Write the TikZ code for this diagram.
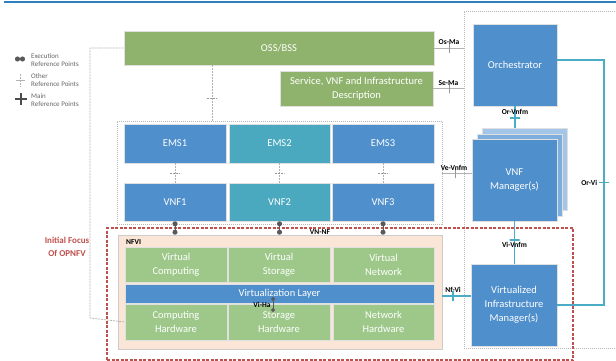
\documentclass[tikz,border=0pt]{standalone}
\usepackage{fontspec}
\setmainfont{Carlito}
\usetikzlibrary{arrows.meta}
\definecolor{boxblue}{HTML}{4F8FCB}
\definecolor{boxteal}{HTML}{4AA8BF}
\definecolor{boxolive}{HTML}{8FB36D}
\definecolor{boxgreen}{HTML}{9DC88A}
\definecolor{boxpeach}{HTML}{FBE5D6}
\definecolor{stackmid}{HTML}{7DAEDD}
\definecolor{stackback}{HTML}{A3C6E8}
\definecolor{lineteal}{HTML}{4BACC6}
\definecolor{focusred}{HTML}{C0504D}
\definecolor{topblue}{HTML}{2E7FC0}

\begin{document}
\begin{tikzpicture}[x=1pt,y=-1pt]
\tikzstyle{blk}=[rectangle,draw=black!12,line width=.6pt,text=white,font=\fontsize{10.5}{14}\selectfont,align=center,inner sep=0pt]
\tikzstyle{bluebox}=[blk,fill=boxblue]
\tikzstyle{tealbox}=[blk,fill=boxteal]
\tikzstyle{olivebox}=[blk,fill=boxolive]
\tikzstyle{greenbox}=[blk,fill=boxgreen]
\tikzstyle{frame}=[rectangle,draw=black!28,dash pattern=on 1pt off 1pt,line width=.6pt,inner sep=0pt]
\tikzstyle{focusframe}=[rectangle,draw=focusred,dash pattern=on 3pt off 1.5pt,line width=1.6pt,inner sep=0pt]
\tikzstyle{ptlbl}=[font=\fontsize{7.5}{9}\selectfont\bfseries,inner sep=1pt]
\tikzstyle{legend}=[font=\fontsize{7}{8.5}\selectfont,text=black!60,align=left,inner sep=0pt,anchor=west]
\tikzstyle{mgmt}=[draw=lineteal,line width=1.6pt]
\tikzstyle{other}=[draw=black!30,line width=.7pt]
\tikzstyle{otherdash}=[draw=black!30,line width=.7pt,dash pattern=on 2pt off 1pt]
\tikzstyle{vtick}=[rectangle,draw=black!40,line width=.8pt,minimum width=0pt,minimum height=10pt,inner sep=0pt]
\tikzstyle{htick}=[rectangle,draw=black!40,line width=.8pt,minimum width=10pt,minimum height=0pt,inner sep=0pt]
\tikzstyle{exec}=[draw=black!65,line width=1pt,{Circle[length=5pt]}-{Circle[length=5pt]}]
\fill[white] (0,0) rectangle (616,361);
\useasboundingbox (0,0) rectangle (616,361);
\clip (0,0) rectangle (616,361);
\draw[topblue,line width=1.5pt] (4,2) -- (616,2);
\node[frame,minimum width=160pt,minimum height=337pt] (mano) at (544,179.5) {};
\node[frame,minimum width=325pt,minimum height=103pt] (nf) at (279.5,172.5) {};
\node[focusframe,minimum width=466pt,minimum height=132pt] (focus) at (340,294) {};
\node[rectangle,draw=black!20,fill=boxpeach,line width=.6pt,minimum width=324pt,minimum height=114pt,inner sep=0pt] (nfvi) at (280,292) {};
\node[olivebox,minimum width=310pt,minimum height=34pt] (oss) at (279,48) {OSS/BSS};
\node[olivebox,minimum width=153pt,minimum height=35pt] (sdesc) at (356.5,88.5) {Service, VNF and Infrastructure\\Description};
\node[bluebox,minimum width=84pt,minimum height=82pt] (orch) at (515,65) {Orchestrator};
\node[bluebox,minimum width=102pt,minimum height=39pt] (ems1) at (175,143.5) {EMS1};
\node[tealbox,minimum width=101pt,minimum height=39pt] (ems2) at (279.5,143.5) {EMS2};
\node[bluebox,minimum width=102pt,minimum height=39pt] (ems3) at (383,143.5) {EMS3};
\node[bluebox,minimum width=102pt,minimum height=38pt] (vnf1) at (175,202) {VNF1};
\node[tealbox,minimum width=101pt,minimum height=38pt] (vnf2) at (279.5,202) {VNF2};
\node[bluebox,minimum width=102pt,minimum height=38pt] (vnf3) at (383,202) {VNF3};
\node[blk,fill=stackback,minimum width=85pt,minimum height=82pt] (vnfmc) at (524.5,169) {};
\node[blk,fill=stackmid,minimum width=85pt,minimum height=82pt] (vnfmb) at (519.5,175) {};
\node[bluebox,minimum width=85pt,minimum height=82pt] (vnfm) at (514.5,180) {VNF\\Manager(s)};
\node[bluebox,minimum width=86pt,minimum height=82pt] (vim) at (514,305) {Virtualized\\Infrastructure\\Manager(s)};
\node[greenbox,minimum width=102pt,minimum height=35pt] (vcomp) at (176,264.5) {Virtual\\Computing};
\node[greenbox,minimum width=102pt,minimum height=35pt] (vstor) at (279,264.5) {Virtual\\Storage};
\node[greenbox,minimum width=101pt,minimum height=35pt] (vnet) at (383.5,264.5) {Virtual\\Network};
\node[bluebox,minimum width=309pt,minimum height=19pt] (vlayer) at (279.5,293.5) {Virtualization Layer};
\node[greenbox,minimum width=102pt,minimum height=36pt] (chw) at (176,322) {Computing\\Hardware};
\node[greenbox,minimum width=102pt,minimum height=36pt] (shw) at (279,322) {Storage\\Hardware};
\node[greenbox,minimum width=101pt,minimum height=36pt] (nhw) at (383.5,322) {Network\\Hardware};
\node[ptlbl,anchor=west] (nfvilbl) at (125,242) {NFVI};
\node[font=\fontsize{9}{13}\selectfont\bfseries,text=focusred,align=center] (focuslbl) at (67,246.5) {Initial Focus\\Of OPNFV};
\draw[otherdash] (oss.west) -- (90,48) -- (90,318) -- (chw.west);
\draw[otherdash] (212,0 |- oss.south) -- node[htick,pos=.59]{} (212,0 |- nf.north);
\draw[other] (oss.east) -- node[vtick,pos=.53]{} node[ptlbl,above=2pt,pos=.5]{Os-Ma} (oss.east -| mano.west);
\draw[other] (sdesc.east) -- node[vtick,pos=.53]{} node[ptlbl,above=2pt,pos=.5]{Se-Ma} (sdesc.east -| mano.west);
\draw[other] (nf.east |- 0,173) -- node[vtick,pos=.45]{} node[ptlbl,above=1pt,pos=.4]{Ve-Vnfm} (vnfm.west |- 0,173);
\foreach \i in {1,2,3}
  \draw[otherdash] (ems\i.south) -- node[htick,pos=.5]{} (vnf\i.north);
\foreach \i in {1,2,3}
  \draw[exec] (vnf\i.south) -- (vnf\i.south |- nfvi.north);
\node[ptlbl] (vnnf) at (320,232) {VN-NF};
\coordinate (viha1) at (273,297);
\coordinate (viha2) at (273,312);
\draw[exec,{Circle[length=4pt]}-{Circle[length=4pt]}] (viha1) -- node[ptlbl,left=1pt]{Vi-Ha} (viha2);
\draw[mgmt] (orch.south) -- node[htick,draw=lineteal,line width=1.2pt,pos=.55]{} node[ptlbl,pos=.27]{Or-Vnfm} (orch.south |- vnfmc.north);
\draw[mgmt] (vnfm.south) -- node[htick,draw=lineteal,line width=1.2pt,pos=.44]{} node[ptlbl,pos=.56]{Vi-Vnfm} (vnfm.south |- vim.north);
\draw[mgmt] (nfvi.east |- 0,296) -- node[vtick,draw=lineteal,line width=1.2pt,pos=.38]{} node[ptlbl,above=2pt,pos=.38]{Nf-Vi} (vim.west |- 0,296);
\coordinate (ortop) at (604,60);
\coordinate (orbot) at (vim.east -| ortop);
\draw[mgmt] ([yshift=5pt]orch.east) -- (ortop) -- node[htick,draw=lineteal,line width=1.2pt,pos=.5]{} node[ptlbl,left=5pt,pos=.5]{Or-Vi} (orbot) -- (vim.east);
\draw[exec] (15,59) -- (25,59);
\draw[other] (16,80) -- (25,80);
\draw[otherdash] (20.5,74) -- (20.5,87);
\draw[black!70,line width=1.4pt] (15,99) -- (27,99);
\draw[black!70,line width=1.4pt] (21,93) -- (21,105);
\node[legend] (lgexec) at (31,60) {Execution\\Reference Points};
\node[legend] (lgother) at (31,80) {Other\\Reference Points};
\node[legend] (lgmain) at (31,100) {Main\\Reference Points};
\end{tikzpicture}
\end{document}
